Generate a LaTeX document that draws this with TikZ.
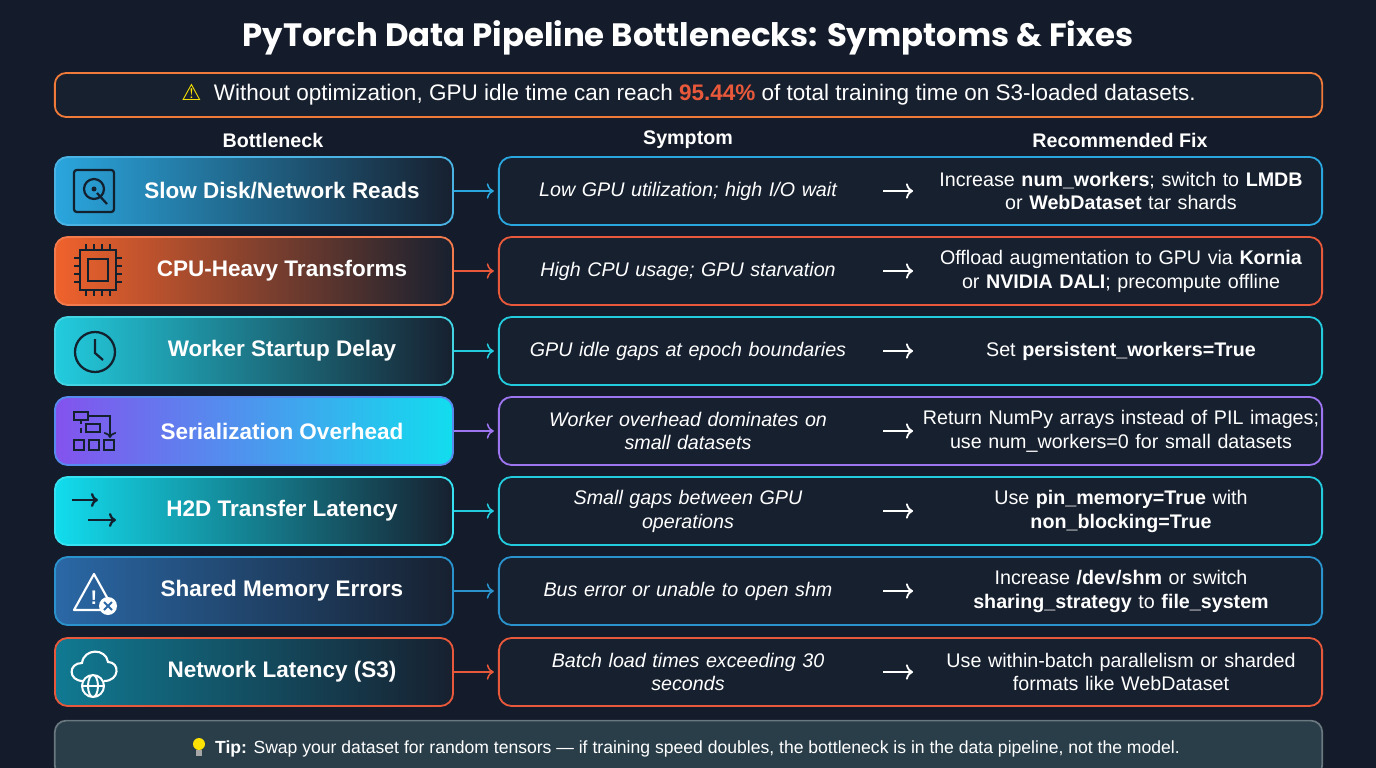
\documentclass[tikz,border=0pt]{standalone}
\usepackage{fontspec}
\setmainfont{Liberation Sans}
\newfontfamily\titlefont{Poppins}
\newfontfamily\symfont{DejaVu Sans}
\usetikzlibrary{positioning,arrows.meta}
\definecolor{bgdark}{HTML}{141B2A}
\definecolor{boxdark}{HTML}{17202F}
\definecolor{icondark}{HTML}{13202E}
\definecolor{warnorange}{HTML}{F07A3A}
\definecolor{warnred}{HTML}{E8583A}
\definecolor{cBlue}{HTML}{2AA6DE}
\definecolor{cOrange}{HTML}{F0622C}
\definecolor{cCyan}{HTML}{22CCDE}
\definecolor{cPurple}{HTML}{8452EE}
\definecolor{cAqua}{HTML}{12DDEE}
\definecolor{cSteel}{HTML}{2A68A6}
\definecolor{cTeal}{HTML}{107A92}
\definecolor{tipfill}{HTML}{2A3E4A}
\tikzset{
  bneck/.style={draw=#1!85!white, line width=1.3pt, rounded corners=9pt,
    minimum width=9.95cm, minimum height=1.7cm, left color=#1, right color=boxdark,
    text=white, font=\bfseries\fontsize{16}{19}\selectfont},
  sbox/.style={draw=#1, line width=1.3pt, rounded corners=9pt, fill=boxdark,
    minimum width=20.575cm, minimum height=1.7cm},
  symtxt/.style={text=white, align=center, text width=9.2cm,
    font=\itshape\fontsize{14}{17}\selectfont},
  fixtxt/.style={text=white, align=center, text width=10cm,
    font=\fontsize{14}{17}\selectfont},
  hdr/.style={text=white, font=\bfseries\fontsize{14}{17}\selectfont},
  link/.style={-{To[length=5pt,width=11pt]}, line width=1.1pt, #1, shorten >=3pt},
  bigarrow/.style={-{To[length=5pt,width=11pt]}, line width=1.3pt, white},
  ico/.style={line width=1.6pt, draw=icondark}
}
\begin{document}
\begin{tikzpicture}[x=0.025cm, y=-0.025cm]
  \fill[bgdark] (0,0) rectangle (1376,768);
  \useasboundingbox (0,0) rectangle (1376,768);

  % Title and warning
  \node[text=white, font=\titlefont\bfseries\fontsize{23}{27}\selectfont] (title) at (688,38)
    {PyTorch Data Pipeline Bottlenecks: Symptoms \& Fixes};
  \node[draw=warnorange, line width=1.3pt, rounded corners=8pt, fill=boxdark,
    minimum width=31.675cm, minimum height=1.1cm, text=white,
    font=\fontsize{16}{19}\selectfont] (warn) at (688.5,95)
    {{\symfont\color{yellow!90!orange}⚠}\ \ Without optimization, GPU idle time can reach
     \textcolor{warnred}{\bfseries 95.44\%} of total training time on S3-loaded datasets.};

  % Column headers
  \node[hdr] (h1) at (273,140) {Bottleneck};
  \node[hdr] (h2) at (688,140) {Symptom};
  \node[hdr] (h3) at (1120,140) {Recommended Fix};

  % Bottleneck boxes
  \node[bneck=cBlue] (b1) at (254,191) {\hspace*{1.4cm}Slow Disk/Network Reads};
  \node[bneck=cOrange] (b2) at (254,271) {\hspace*{1.4cm}CPU-Heavy Transforms};
  \node[bneck=cCyan] (b3) at (254,351) {\hspace*{1.4cm}Worker Startup Delay};
  \node[bneck=cPurple, right color=cAqua, draw=cPurple!60!cAqua] (b4) at (254,431)
    {\hspace*{1.4cm}Serialization Overhead};
  \node[bneck=cAqua] (b5) at (254,511) {\hspace*{1.4cm}H2D Transfer Latency};
  \node[bneck=cSteel, draw=cBlue!70!cSteel] (b6) at (254,591) {\hspace*{1.4cm}Shared Memory Errors};
  \node[bneck=cTeal, draw=warnred] (b7) at (254,672) {\hspace*{1.4cm}Network Latency (S3)};

  % Symptom / fix boxes
  \node[sbox=cBlue] (s1) at (910.5,191) {};
  \node[sbox=warnred] (s2) at (910.5,271) {};
  \node[sbox=cCyan] (s3) at (910.5,351) {};
  \node[sbox=cPurple!80!white] (s4) at (910.5,431) {};
  \node[sbox=cCyan] (s5) at (910.5,511) {};
  \node[sbox=cBlue!70!cSteel] (s6) at (910.5,591) {};
  \node[sbox=warnred] (s7) at (910.5,672) {};

  % Symptom texts
  \node[symtxt] (sym1) at (688,191) {Low GPU utilization; high I/O wait};
  \node[symtxt] (sym2) at (688,271) {High CPU usage; GPU starvation};
  \node[symtxt] (sym3) at (688,351) {GPU idle gaps at epoch boundaries};
  \node[symtxt] (sym4) at (688,431) {Worker overhead dominates on\\small datasets};
  \node[symtxt] (sym5) at (688,511) {Small gaps between GPU\\operations};
  \node[symtxt] (sym6) at (688,591) {Bus error or unable to open shm};
  \node[symtxt] (sym7) at (688,672) {Batch load times exceeding 30\\seconds};

  % Fix texts
  \node[fixtxt] (fix1) at (1121,191) {Increase \textbf{num\_workers}; switch to \textbf{LMDB}\\or \textbf{WebDataset} tar shards};
  \node[fixtxt] (fix2) at (1121,271) {Offload augmentation to GPU via \textbf{Kornia}\\or \textbf{NVIDIA DALI}; precompute offline};
  \node[fixtxt] (fix3) at (1121,351) {Set \textbf{persistent\_workers=True}};
  \node[fixtxt] (fix4) at (1121,431) {Return NumPy arrays instead of PIL images;\\use num\_workers=0 for small datasets};
  \node[fixtxt] (fix5) at (1121,511) {Use \textbf{pin\_memory=True} with\\\textbf{non\_blocking=True}};
  \node[fixtxt] (fix6) at (1121,591) {Increase \textbf{/dev/shm} or switch\\\textbf{sharing\_strategy} to \textbf{file\_system}};
  \node[fixtxt] (fix7) at (1121,672) {Use within-batch parallelism or sharded\\formats like WebDataset};

  % Arrows between boxes
  \draw[link=cBlue] (b1) -- (s1);
  \draw[link=warnred] (b2) -- (s2);
  \draw[link=cCyan] (b3) -- (s3);
  \draw[link=cPurple!80!white] (b4) -- (s4);
  \draw[link=cCyan] (b5) -- (s5);
  \draw[link=cBlue!70!cSteel] (b6) -- (s6);
  \draw[link=warnred] (b7) -- (s7);

  % Arrows symptom -> fix
  \coordinate (a1) at (883,191); \coordinate (z1) at (913,191);
  \coordinate (a2) at (883,271); \coordinate (z2) at (913,271);
  \coordinate (a3) at (883,351); \coordinate (z3) at (913,351);
  \coordinate (a4) at (883,431); \coordinate (z4) at (913,431);
  \coordinate (a5) at (883,511); \coordinate (z5) at (913,511);
  \coordinate (a6) at (883,591); \coordinate (z6) at (913,591);
  \coordinate (a7) at (883,672); \coordinate (z7) at (913,672);
  \foreach \i in {1,...,7} {\draw[bigarrow] (a\i) -- (z\i);}

  % Icons
  \draw[ico, rounded corners=2pt] (74,170) rectangle (114,212);
  \draw[ico] (94,189) circle (10); \fill[icondark] (94,189) circle (2.5);
  \draw[ico] (97,193) -- (107,204);
  \draw[ico] (80,250) rectangle (116,290); \draw[ico] (88,259) rectangle (108,281);
  \foreach \k in {0,1,2,3} {
    \draw[ico, line width=1.2pt] (86+\k*8,244) -- (86+\k*8,250) (86+\k*8,290) -- (86+\k*8,296);
    \draw[ico, line width=1.2pt] (74,258+\k*8) -- (80,258+\k*8) (116,258+\k*8) -- (122,258+\k*8);}
  \draw[ico] (95,352) circle (20); \draw[ico] (95,339) -- (95,353) -- (103,360);
  \draw[ico, line width=1.2pt] (74,412) rectangle (88,420) (86,424) rectangle (100,432)
    (74,440) rectangle (84,450) (89,440) rectangle (99,450) (104,440) rectangle (114,450);
  \draw[ico, line width=1.2pt, ->] (88,416) -- (110,416) -- (110,438);
  \draw[ico, line width=1.2pt, dashed] (81,420) -- (81,436);
  \draw[ico, -{To[length=5pt,width=10pt]}] (72,500) -- (98,500);
  \draw[ico, -{To[length=5pt,width=10pt]}] (88,520) -- (116,520);
  \draw[line width=1.5pt, white, line join=round] (94,574) -- (114,610) -- (74,610) -- cycle;
  \node[text=white, font=\bfseries\fontsize{14}{14}\selectfont] (excl) at (94,598) {!};
  \fill[white] (108,606) circle (9); \draw[cSteel, line width=1.5pt] (104,602) -- (112,610) (112,602) -- (104,610);
  \draw[line width=1.5pt, white] (83,681) .. controls (68,681) and (68,663) .. (82,663)
    .. controls (84,648) and (106,648) .. (108,662) .. controls (120,662) and (120,681) .. (104,681);
  \draw[line width=1.4pt, white] (93,686) circle (11) ellipse (5 and 11) (82,686) -- (104,686);

  % Tip
  \node[draw=tipfill!70!white, line width=1.2pt, rounded corners=8pt, fill=tipfill,
    minimum width=31.675cm, minimum height=1.4cm, anchor=north, text=white,
    font=\fontsize{12.5}{15}\selectfont, yshift=0.18cm] (tip) at (688.5,727)
    {\hspace*{0.45cm}\textbf{Tip:} Swap your dataset for random tensors --- if training speed doubles, the bottleneck is in the data pipeline, not the model.};
  \fill[yellow!85!orange] (199,744) circle (6);
  \fill[gray!70] (196,750) rectangle (202,756);
\end{tikzpicture}
\end{document}
